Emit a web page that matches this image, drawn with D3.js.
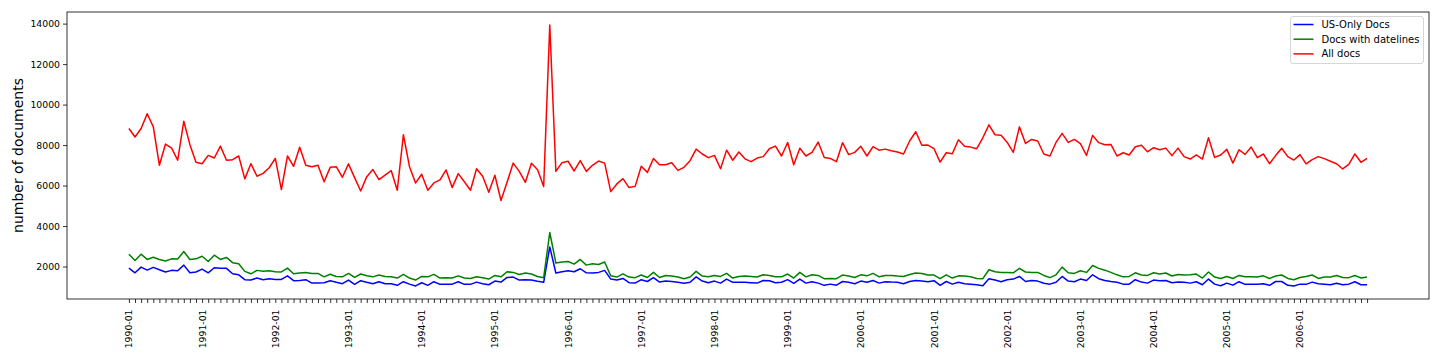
<!DOCTYPE html>
<html>
<head>
<meta charset="utf-8">
<script src="https://cdn.jsdelivr.net/npm/d3@7"></script>
<style>
  body { margin: 0; background: #fff; }
  text { font-family: "DejaVu Sans", sans-serif; fill: #000; }
</style>
</head>
<body>
<svg id="chart" width="1440" height="360"></svg>
<script>
// monthly counts, 1990-01 .. 2006-12
var usOnly = [1920,1690,1970,1820,1960,1840,1730,1810,1790,2070,1690,1730,
  1870,1690,1940,1920,1910,1640,1590,1350,1330,1430,1350,1400,
  1360,1360,1540,1300,1310,1350,1180,1180,1200,1300,1220,1150,
  1330,1120,1300,1220,1150,1250,1150,1150,1070,1250,1130,1040,
  1200,1070,1250,1120,1130,1130,1250,1120,1120,1230,1150,1100,
  1280,1230,1460,1480,1330,1350,1330,1270,1220,2970,1680,1740,
  1790,1740,1890,1690,1680,1710,1810,1380,1330,1410,1200,1180,
  1350,1260,1450,1230,1280,1260,1220,1170,1220,1490,1280,1200,
  1280,1180,1380,1220,1220,1220,1200,1180,1310,1300,1200,1220,
  1350,1170,1380,1180,1250,1180,1070,1130,1080,1260,1220,1150,
  1280,1220,1310,1180,1250,1230,1220,1150,1260,1310,1280,1250,
  1300,1070,1260,1130,1220,1150,1130,1100,1050,1400,1330,1250,
  1350,1380,1510,1260,1310,1280,1170,1130,1220,1510,1280,1250,
  1380,1310,1590,1400,1310,1260,1220,1130,1130,1350,1230,1180,
  1330,1300,1310,1200,1230,1220,1180,1250,1100,1380,1130,1050,
  1180,1080,1250,1120,1130,1130,1150,1070,1260,1260,1070,1040,
  1130,1120,1230,1150,1130,1100,1170,1100,1130,1250,1100,1100];

var withDatelines = [2610,2300,2610,2350,2460,2350,2270,2380,2370,2740,2350,2380,
  2510,2250,2560,2350,2450,2190,2140,1760,1640,1810,1770,1790,
  1740,1730,1920,1640,1680,1710,1660,1660,1490,1620,1510,1490,
  1660,1460,1630,1540,1490,1580,1510,1490,1430,1610,1430,1330,
  1510,1490,1610,1430,1450,1430,1540,1430,1410,1490,1450,1380,
  1560,1490,1740,1710,1610,1680,1630,1510,1450,3680,2170,2220,
  2250,2120,2350,2070,2140,2100,2220,1540,1480,1640,1480,1450,
  1580,1460,1710,1460,1560,1530,1480,1400,1480,1760,1530,1490,
  1560,1510,1660,1430,1510,1530,1510,1480,1590,1560,1490,1490,
  1630,1430,1710,1490,1590,1560,1400,1410,1400,1580,1530,1460,
  1590,1540,1660,1490,1560,1560,1530,1510,1610,1680,1660,1580,
  1580,1400,1590,1430,1540,1530,1490,1410,1400,1840,1740,1710,
  1710,1690,1910,1730,1710,1710,1560,1450,1590,1970,1690,1660,
  1790,1710,2050,1910,1820,1710,1590,1490,1510,1690,1580,1560,
  1690,1630,1680,1530,1610,1580,1590,1630,1430,1730,1480,1410,
  1510,1410,1560,1490,1490,1480,1540,1410,1530,1580,1410,1350,
  1460,1510,1580,1410,1480,1480,1560,1460,1450,1560,1430,1480];

var allDocs = [8820,8400,8820,9550,8900,7000,8050,7850,7250,9180,8020,7150,
  7080,7490,7360,7950,7250,7280,7460,6330,7080,6460,6600,6880,
  7340,5800,7460,6950,7890,7000,6930,7000,6190,6900,6930,6410,
  7070,6390,5730,6440,6790,6290,6520,6740,5770,8510,6930,6130,
  6560,5770,6130,6280,6770,5900,6590,6190,5770,6830,6460,5670,
  6510,5260,6160,7110,6700,6160,7100,6780,5950,13930,6700,7130,
  7200,6720,7230,6700,7000,7210,7110,5700,6080,6340,5900,5960,
  6950,6650,7340,7030,7030,7130,6750,6900,7230,7800,7560,7380,
  7490,6830,7750,7250,7660,7320,7180,7360,7430,7820,7950,7460,
  8130,7030,7840,7460,7640,8150,7390,7340,7180,8120,7530,7640,
  7940,7460,7920,7750,7800,7720,7660,7560,8200,8660,7990,8000,
  7820,7160,7620,7570,8260,7940,7900,7820,8360,9000,8510,8480,
  8130,7640,8900,8080,8280,8200,7560,7460,8130,8580,8130,8280,
  8070,7490,8480,8120,8020,8030,7460,7620,7510,7920,7990,7670,
  7870,7770,7850,7480,7850,7430,7310,7510,7310,8360,7390,7510,
  7790,7110,7770,7540,7900,7380,7560,7080,7480,7840,7430,7260,
  7530,7070,7280,7430,7330,7200,7080,6820,7050,7560,7150,7340];

var months = d3.timeMonths(new Date(1990, 0, 1), new Date(2007, 0, 1))
  .map(d3.timeFormat("%Y-%m"));

var seriesNames = ["US-Only Docs", "Docs with datelines", "All docs"];
var seriesColors = ["blue", "green", "red"];
var seriesData = [usOnly, withDatelines, allDocs];
var yTicks = [2000, 4000, 6000, 8000, 10000, 12000, 14000];

var margin = {top: 12, right: 11, bottom: 61, left: 67},
  width = 1440 - margin.left - margin.right,
  height = 360 - margin.top - margin.bottom;

var svg = d3.select("#chart");
var g = svg.append("g").attr("transform", "translate(" + margin.left + "," + margin.top + ")");

// matplotlib-like 5% margins
var n = months.length - 1;
var x = d3.scaleLinear().domain([-0.05 * n, n * 1.05]).range([0, width]);
var allVals = [].concat(usOnly, withDatelines, allDocs);
var ymin = d3.min(allVals), ymax = d3.max(allVals), yr = ymax - ymin;
var y = d3.scaleLinear().domain([ymin - 0.05 * yr, ymax + 0.05 * yr]).range([height, 0]);

// x axis: tick every month, label on january
var xAxis = g.append("g")
  .attr("transform", "translate(0," + height + ")")
  .call(d3.axisBottom(x)
    .tickValues(d3.range(months.length))
    .tickFormat(function(i){ return i % 12 === 0 ? months[i] : ""; })
    .tickSize(4).tickPadding(3));
xAxis.select(".domain").remove();
xAxis.selectAll("line").attr("stroke", "#000").attr("stroke-width", 0.8);
xAxis.selectAll("text")
  .style("font-size", "9.3px")
  .attr("transform", "rotate(-90)")
  .attr("text-anchor", "end")
  .attr("x", -10.5)
  .attr("y", 0)
  .attr("dy", "0.32em");

var yAxis = g.append("g")
  .call(d3.axisLeft(y).tickValues(yTicks).tickFormat(d3.format("d")).tickSize(4).tickPadding(3));
yAxis.select(".domain").remove();
yAxis.selectAll("line").attr("stroke", "#000").attr("stroke-width", 0.8);
yAxis.selectAll("text").style("font-size", "9.3px");

// lines
var line = d3.line()
  .x(function(d, i){ return x(i); })
  .y(function(d){ return y(d); });

seriesData.forEach(function(s, k){
  g.append("path")
    .datum(s)
    .attr("fill", "none")
    .attr("stroke", seriesColors[k])
    .attr("stroke-width", 1.5)
    .attr("stroke-linejoin", "round")
    .attr("d", line);
});

// frame
g.append("rect")
  .attr("x", 0).attr("y", 0)
  .attr("width", width).attr("height", height)
  .attr("fill", "none")
  .attr("stroke", "#000")
  .attr("stroke-width", 0.8);

// y label
svg.append("text")
  .attr("transform", "translate(22.5," + (margin.top + height / 2) + ") rotate(-90)")
  .attr("text-anchor", "middle")
  .style("font-size", "14px")
  .text("number of documents");

// legend
var lg = svg.append("g").attr("transform", "translate(1290.5,16.5)");
lg.append("rect")
  .attr("width", 133).attr("height", 47)
  .attr("rx", 2.5)
  .attr("fill", "#fff").attr("fill-opacity", 0.8)
  .attr("stroke", "#cccccc").attr("stroke-width", 0.8);
seriesNames.forEach(function(name, k){
  var ly = 8 + k * 14.7;
  lg.append("line")
    .attr("x1", 3).attr("x2", 23)
    .attr("y1", ly).attr("y2", ly)
    .attr("stroke", seriesColors[k]).attr("stroke-width", 1.5);
  lg.append("text")
    .attr("x", 31).attr("y", ly)
    .attr("dy", "0.35em")
    .style("font-size", "10px")
    .text(name);
});
</script>
</body>
</html>
